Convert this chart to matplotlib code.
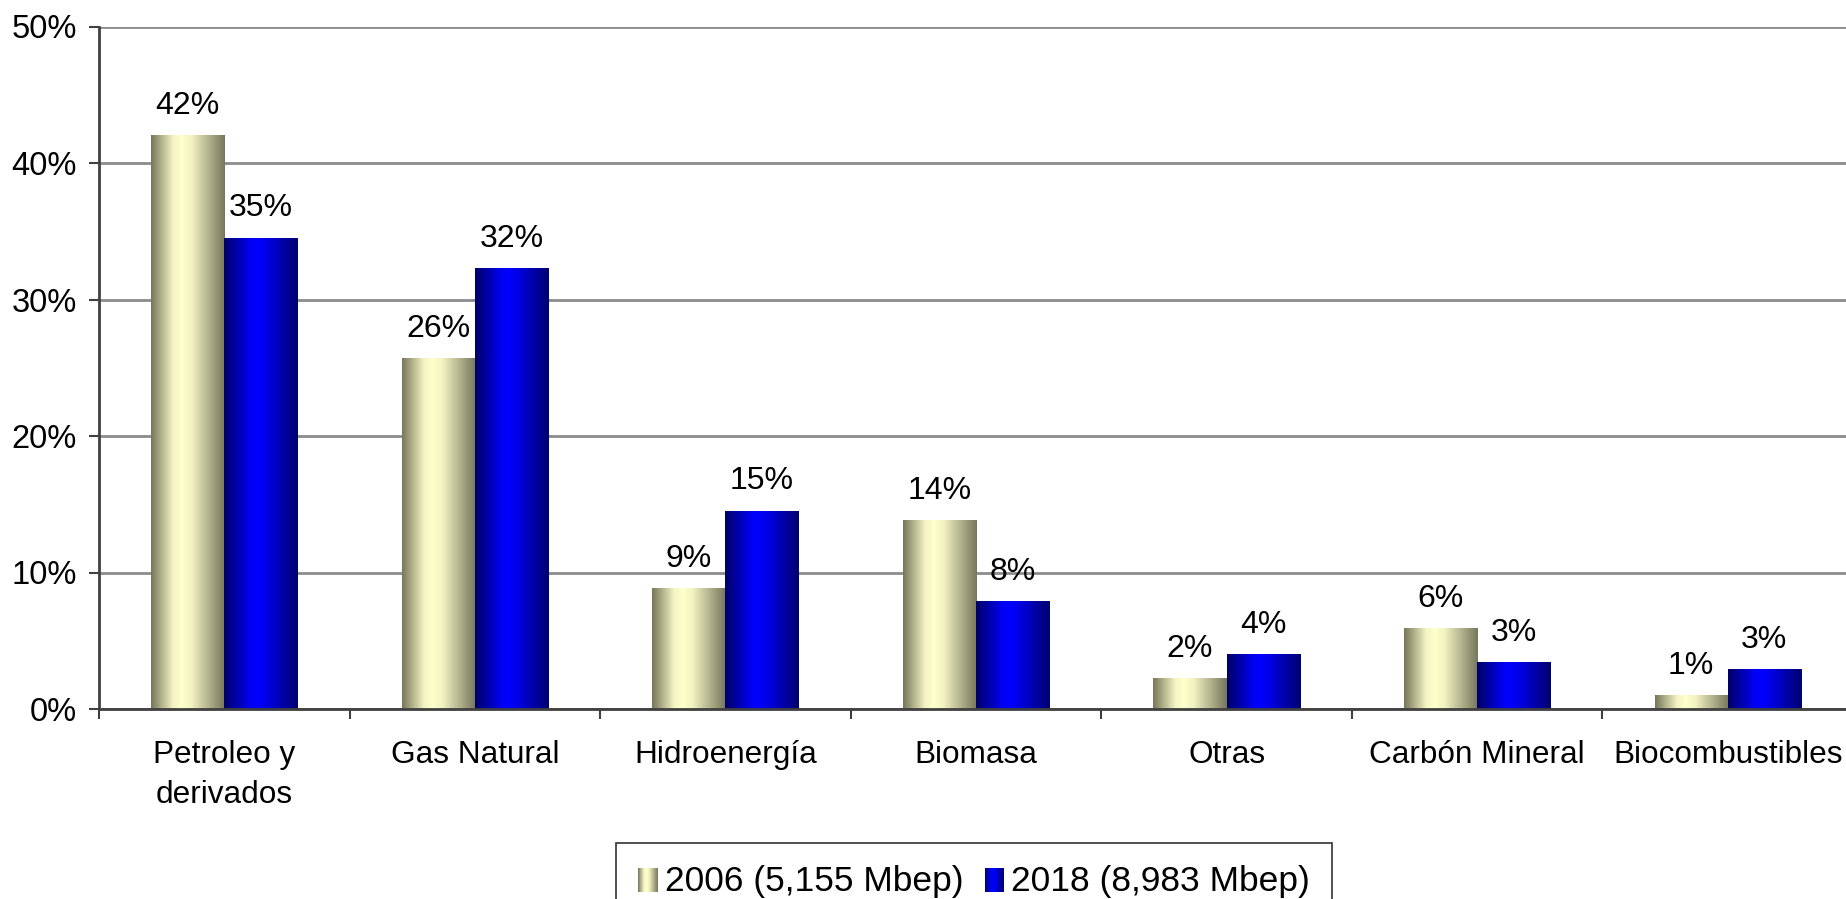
import numpy as np
import matplotlib; matplotlib.use('Agg')
import matplotlib.pyplot as plt
from matplotlib.colors import LinearSegmentedColormap
from matplotlib.patches import Rectangle
from matplotlib.legend_handler import HandlerBase
from matplotlib.ticker import FixedLocator, PercentFormatter

plt.rcParams['font.family'] = ['Liberation Sans', 'DejaVu Sans']

# data
categories = ['Petroleo y\nderivados', 'Gas Natural', 'Hidroenergía', 'Biomasa',
              'Otras', 'Carbón Mineral', 'Biocombustibles']
vals_2006 = [42.0, 25.7, 8.8, 13.8, 2.2, 5.9, 1.0]
vals_2018 = [34.5, 32.3, 14.5, 7.9, 4.0, 3.4, 2.9]
labels_2006 = ['42%', '26%', '9%', '14%', '2%', '6%', '1%']
labels_2018 = ['35%', '32%', '15%', '8%', '4%', '3%', '3%']
series_names = ['2006 (5,155 Mbep)', '2018 (8,983 Mbep)']

# horizontal gradients (Excel style cylinder shading)
cm_2006 = LinearSegmentedColormap.from_list('g06', [(0, '#76765a'), (0.3, '#f4f4c4'),
                                                    (0.42, '#ffffcc'), (0.55, '#f2f2c2'),
                                                    (1, '#76765c')])
cm_2018 = LinearSegmentedColormap.from_list('g18', [(0, '#000066'), (0.35, '#0000f0'),
                                                    (0.45, '#0000ff'), (0.6, '#0000e0'),
                                                    (1, '#00006e')])
grad = np.linspace(0, 1, 256)[None, :]


class GradHandler(HandlerBase):
    def __init__(self, cmap):
        super().__init__()
        self.cmap = cmap
    def create_artists(self, legend, orig, xd, yd, w, h, fs, trans):
        n = 20
        out = []
        for i in range(n):
            r = Rectangle((xd + w * i / n, yd), w / n + 0.3, h, facecolor=self.cmap((i + 0.5) / n),
                          edgecolor='none', transform=trans)
            out.append(r)
        return out


fig = plt.figure(figsize=(18.46, 8.99), dpi=100)
ax = fig.add_axes([99 / 1846, 1 - 709 / 899, 1754 / 1846, (709 - 26.5) / 899])

x = np.arange(len(categories))
w = 0.292
b1 = ax.bar(x - w / 2, vals_2006, w, color='none', edgecolor='none', zorder=2)
b2 = ax.bar(x + w / 2, vals_2018, w, color='none', edgecolor='none', zorder=2)

for bars, cm, labs in [(b1, cm_2006, labels_2006), (b2, cm_2018, labels_2018)]:
    for p, lab in zip(bars, labs):
        x0, h = p.get_x(), p.get_height()
        ax.imshow(grad, cmap=cm, extent=[x0, x0 + p.get_width(), 0, h], aspect='auto',
                  zorder=2, interpolation='bilinear')
        ax.annotate(lab, (x0 + p.get_width() / 2, h), xytext=(0, 10.5), textcoords='offset points',
                    ha='center', va='bottom', fontsize=23)

ax.set_xlim(-0.5, len(categories) - 0.5)
ax.set_ylim(0, 50)
ax.yaxis.set_major_locator(FixedLocator([0, 10, 20, 30, 40, 50]))
ax.yaxis.set_major_formatter(PercentFormatter(decimals=0))
ax.grid(axis='y', color='#8c8c8c', linewidth=2, zorder=0)
ax.set_axisbelow(True)

ax.set_xticks(x)
ax.set_xticklabels(categories, fontsize=22.7, linespacing=1.45)
ax.tick_params(axis='x', which='major', length=0, pad=22)
ax.set_xticks(np.arange(len(categories) + 1) - 0.5, minor=True)
ax.tick_params(axis='x', which='minor', length=7, width=1.5, color='#404040')
ax.tick_params(axis='y', labelsize=23.5, length=7, width=1.5, color='#404040', pad=9)

for s in ['top', 'right']:
    ax.spines[s].set_visible(False)
ax.spines['left'].set_color('#404040')
ax.spines['left'].set_linewidth(2)
ax.spines['bottom'].set_color('#404040')
ax.spines['bottom'].set_linewidth(2)
ax.spines['bottom'].set_zorder(3)

h1 = Rectangle((0, 0), 1, 1)
h2 = Rectangle((0, 0), 1, 1, facecolor='blue')
leg = fig.legend([h1, h2], series_names, loc='upper center',
                 bbox_to_anchor=(974 / 1846, 1 - 843 / 899), ncol=2, fontsize=25.5,
                 handler_map={h1: GradHandler(cm_2006), h2: GradHandler(cm_2018)},
                 handlelength=0.55, handleheight=0.65, handletextpad=0.2, columnspacing=0.6,
                 borderpad=0.62, borderaxespad=0, frameon=True, fancybox=False,
                 edgecolor='black')
leg.get_frame().set_linewidth(1.2)

fig.savefig('out.png', dpi=100)
